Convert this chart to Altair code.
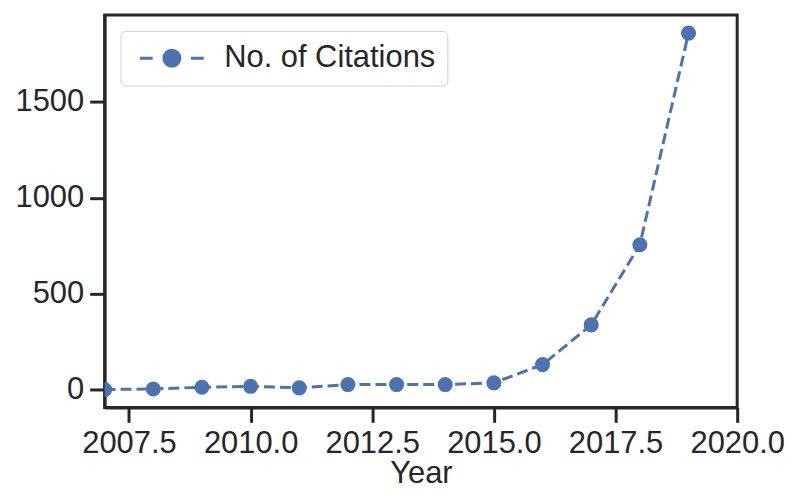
import altair as alt
import pandas as pd

years = [2007, 2008, 2009, 2010, 2011, 2012, 2013, 2014, 2015, 2016, 2017, 2018, 2019]
citations = [0, 3, 12, 17, 9, 26, 26, 26, 35, 130, 337, 755, 1858]
series_name = "No. of Citations"
x_ticks = [2007.5, 2010.0, 2012.5, 2015.0, 2017.5, 2020.0]
y_ticks = [0, 500, 1000, 1500]

df = pd.DataFrame({"Year": years, "Citations": citations, "series": [series_name] * len(years)})

BLUE = "#4C72B0"
DARK = "#262626"
FONT = "Liberation Sans"
FS = 31

x_enc = alt.X("Year:Q", scale=alt.Scale(domain=[2007, 2020], nice=False, zero=False),
              axis=alt.Axis(values=x_ticks, format=".1f", title="Year",
                            labelOverlap=False, labelFlush=False))
y_enc = alt.Y("Citations:Q", scale=alt.Scale(domain=[-93, 1953], nice=False, zero=False),
              axis=alt.Axis(values=y_ticks, format="d", title=None, labelOverlap=False,
                            labelFlush=False))

line = alt.Chart(df).mark_line(color=BLUE, strokeWidth=3, strokeDash=[11, 5], clip=True).encode(
    x=x_enc, y=y_enc
)

legend_path = "M-4,0L-2.4,0M2.4,0L4,0M-1,0A1,1,0,1,1,1,0A1,1,0,1,1,-1,0Z"

points = alt.Chart(df).mark_point(filled=True, opacity=1, size=230, clip=True).encode(
    x=x_enc, y=y_enc,
    color=alt.Color("series:N", scale=alt.Scale(range=[BLUE]),
                    legend=alt.Legend(title=None, orient="top-left", offset=16,
                                      symbolType=legend_path, symbolSize=256,
                                      symbolFillColor=BLUE, symbolStrokeColor=BLUE,
                                      symbolStrokeWidth=3, symbolOpacity=1,
                                      symbolOffset=24, labelOffset=37, labelLimit=0,
                                      labelFontSize=FS, labelFont=FONT, labelColor=DARK,
                                      padding=12, strokeColor="#d0d0d0", fillColor="white",
                                      cornerRadius=5))
)

chart = alt.layer(line, points).properties(
    width=635, height=394,
    autosize=alt.AutoSizeParams(type="none"),
    padding={"left": 97, "top": 6, "right": 48, "bottom": 84},
).configure_view(
    stroke=DARK, strokeWidth=3
).configure_axis(
    grid=False, domainColor=DARK, domainWidth=3, tickColor=DARK, tickWidth=3, tickSize=15,
    labelFont=FONT, labelFontSize=FS, labelColor=DARK, labelPadding=6,
    titleFont=FONT, titleFontSize=FS, titleColor=DARK, titleFontWeight="normal",
    titlePadding=0,
)

chart.save("out.html", embed_options={"renderer": "svg", "actions": False})
